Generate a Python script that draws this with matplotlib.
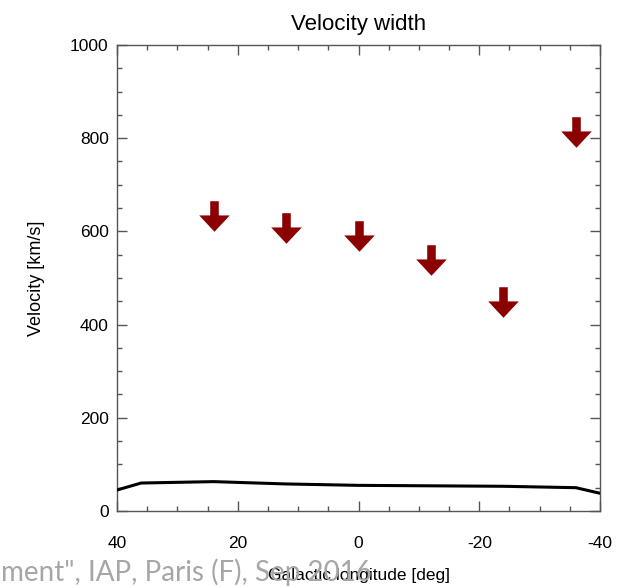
import matplotlib.pyplot as plt
import numpy as np
from matplotlib.path import Path

# ====== data ======
lon_limits = [24, 12, 0, -12, -24, -36]          # deg
vel_limits = [632, 607, 591, 539, 448, 813]      # km/s (upper limits)

lon_curve = [40, 36, 24, 12, 0, -12, -24, -36, -40]
vel_curve = [45, 60, 63, 58, 55, 54, 53, 50, 38]

xticks = [40, 20, 0, -20, -40]
yticks = [0, 200, 400, 600, 800, 1000]

# ====== down-arrow marker (upper limit) ======
arrow = Path([(-0.28, 1), (0.28, 1), (0.28, 0.07), (1, 0.07), (0, -1),
              (-1, 0.07), (-0.28, 0.07), (-0.28, 1)])

plt.rcParams['font.family'] = ['Liberation Sans', 'DejaVu Sans']

fig = plt.figure(figsize=(6.21, 5.87), dpi=100)
ax = fig.add_axes([0.1884, 0.1295, 0.7778, 0.7939])

ax.plot(lon_curve, vel_curve, color='black', linewidth=2.2, zorder=3)
ax.plot(lon_limits, vel_limits, linestyle='none', marker=arrow,
        markersize=22, color='#8b0000', markeredgewidth=0, zorder=4)

ax.set_xlim(40, -40)
ax.set_ylim(0, 1000)
ax.set_xticks(xticks)
ax.set_xticklabels([str(t) for t in xticks])
ax.set_yticks(yticks)
ax.set_xticks(np.arange(-40, 41, 5), minor=True)
ax.set_yticks(np.arange(0, 1001, 50), minor=True)

ax.tick_params(which='both', direction='in', top=True, right=True,
               color='#555555', width=1.0)
ax.tick_params(which='major', length=7.5, labelsize=12.5)
ax.tick_params(axis='x', which='major', pad=18)
ax.tick_params(axis='y', which='major', pad=6)
ax.tick_params(which='minor', length=3.8)
for s in ax.spines.values():
    s.set_color('#555555')
    s.set_linewidth(1.0)

ax.set_title("Velocity width", fontsize=16, pad=11)
ax.set_ylabel("Velocity [km/s]", fontsize=13, labelpad=18)

# slide footer text sitting behind the x title
fig.text(0.002, 0.01, 'ment", IAP, Paris (F), Sep 2016', fontsize=20,
         color='#a6a6a6', family=['Lato', 'DejaVu Sans'], ha='left', va='baseline')
ax.set_xlabel("Galactic longitude [deg]", fontsize=12.5, labelpad=12)

fig.savefig("out.png", dpi=100)
